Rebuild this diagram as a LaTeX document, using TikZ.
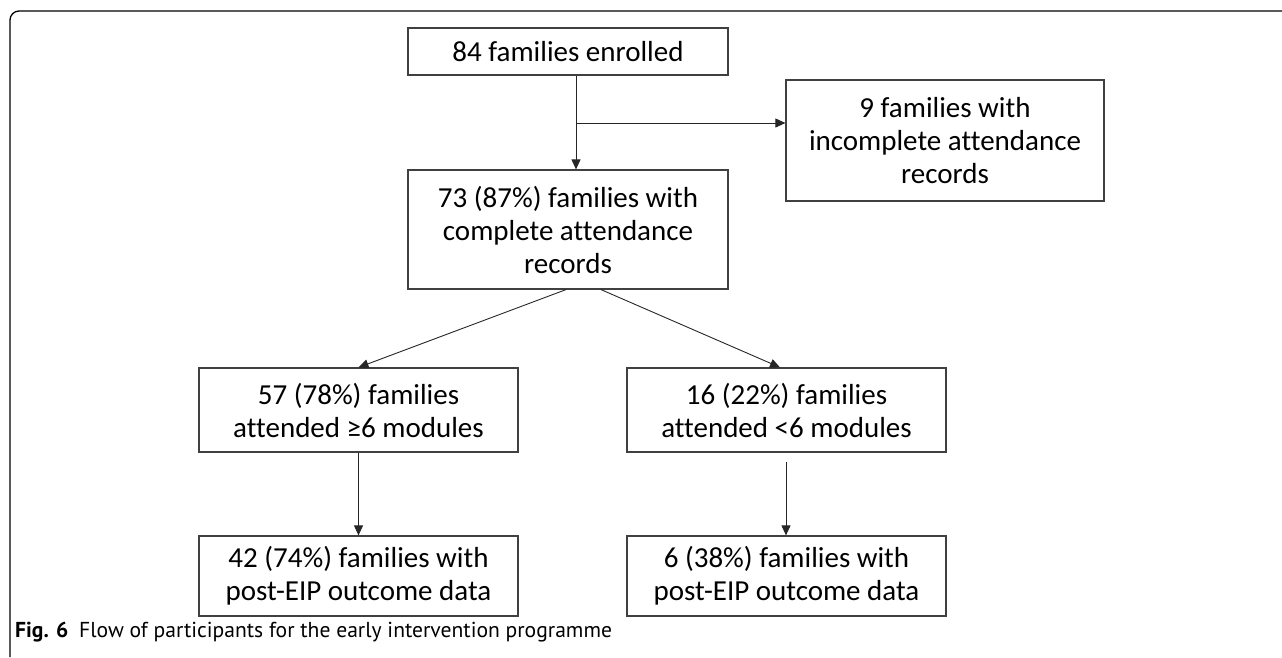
\documentclass[tikz,border=0pt]{standalone}
\usepackage{fontspec}
\setmainfont{Carlito}[RawFeature={-liga}]
\newfontfamily\capfont{PT Sans}
\usetikzlibrary{arrows.meta,calc}
\begin{document}
\begin{tikzpicture}[x=1pt,y=-1pt,
  box/.style={draw=black!75, line width=1.2pt, inner sep=0pt, align=center,
    font=\fontsize{29}{33}\selectfont},
  arr/.style={draw=black!85, line width=0.9pt, -{Triangle[length=10pt,width=9pt]}}]
\useasboundingbox (0,0) rectangle (1282,657);
\draw[line width=1.3pt, rounded corners=9pt] (10,657) -- (10,11) -- (1282,11);
\node[box, minimum width=320pt, minimum height=47pt] (b1) at (568,51.5) {84 families enrolled};
\node[box, minimum width=318pt, minimum height=121pt] (b9) at (945,140.5) {9 families with\\incomplete attendance\\records};
\node[box, minimum width=320pt, minimum height=119pt] (b73) at (568,229.5) {73 (87\%) families with\\complete attendance\\records};
\node[box, minimum width=319pt, minimum height=84pt] (b57) at (358.5,410) {57 (78\%) families\\attended ≥6 modules};
\node[box, minimum width=319pt, minimum height=84pt] (b16) at (786.5,410) {16 (22\%) families\\attended <6 modules};
\node[box, minimum width=319pt, minimum height=80pt] (b42) at (358.5,576) {42 (74\%) families with\\post-EIP outcome data};
\node[box, minimum width=319pt, minimum height=80pt] (b6) at (786.5,576) {6 (38\%) families with\\post-EIP outcome data};
\coordinate (j1) at (576,123);
\draw[arr] (b1.south -| j1) -- (b73.north -| j1);
\draw[arr] (j1) -- (j1 -| b9.west);
\coordinate (l0) at (566,289);
\coordinate (r0) at (601,289);
\coordinate (r2) at (780,368);
\draw[arr] (b73.south -| l0) -- (b57.north);
\draw[arr] (b73.south -| r0) -- (b16.north -| r2);
\draw[arr] (b57.south) -- (b42.north);
\coordinate (r1) at (786,462);
\draw[arr] (r1) -- (b6.north -| r1);
\node[anchor=west, inner sep=0pt] (cap) at (15,632) {\capfont\fontsize{21.6}{24}\selectfont\textbf{Fig. 6}\hspace{0.5em}Flow of participants for the early intervention programme};
\end{tikzpicture}
\end{document}
